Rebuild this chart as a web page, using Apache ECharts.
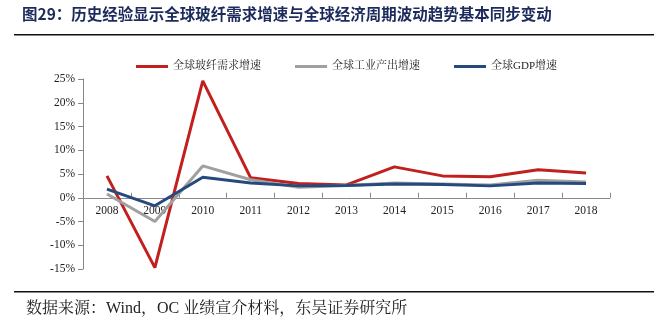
<!DOCTYPE html>
<html><head><meta charset="utf-8">
<script src="https://cdn.jsdelivr.net/npm/echarts@6/dist/echarts.min.js"></script>
<style>html,body{margin:0;padding:0;background:#fff}#c{width:667px;height:327px}</style>
</head><body><div id="c"></div>
<script>
const years = ['2008','2009','2010','2011','2012','2013','2014','2015','2016','2017','2018'];
const glassFiber = [4.6,-14.7,24.6,4.2,3.0,2.7,6.5,4.6,4.4,5.9,5.2];
const industrial = [0.8,-5.0,6.7,3.8,2.2,2.6,3.1,2.9,2.7,3.7,3.3];
const gdp = [1.8,-1.7,4.3,3.1,2.5,2.6,2.9,2.8,2.5,3.1,3.0];
const names = ['全球玻纤需求增速','全球工业产出增速','全球GDP增速'];
const serif = '"Liberation Serif","Noto Serif CJK SC","Noto Sans CJK SC",serif';
const chart = echarts.init(document.getElementById('c'));
const mk = (n,d,c)=>({name:n,type:'line',data:d,symbol:'none',lineStyle:{width:3,color:c},itemStyle:{color:c}});
chart.setOption({
  animation:false,
  textStyle:{fontFamily:serif},
  legend:{top:56,left:131,itemWidth:32,itemHeight:3,itemGap:34,icon:'rect',
    textStyle:{fontFamily:serif,fontSize:11,color:'#222'},data:names},
  grid:{left:83,right:57,top:79,bottom:58},
  xAxis:{type:'category',data:years,boundaryGap:true,
    axisLine:{onZero:true,lineStyle:{color:'#888'}},axisTick:{show:true,inside:true,lineStyle:{color:'#888'}},
    axisLabel:{fontFamily:serif,fontSize:11.5,color:'#222',margin:-64}},
  yAxis:{type:'value',min:-15,max:25,interval:5,
    axisLine:{show:true,lineStyle:{color:'#888'}},axisTick:{show:true,inside:false,lineStyle:{color:'#888'}},
    splitLine:{show:false},
    axisLabel:{fontFamily:serif,fontSize:11.5,color:'#222',margin:8,formatter:'{value}%'}},
  series:[mk(names[0],glassFiber,'#c0201e'),mk(names[1],industrial,'#a0a0a0'),mk(names[2],gdp,'#264a7d')],
  graphic:[
    {type:'text',left:22,top:6,style:{text:'图29：历史经验显示全球玻纤需求增速与全球经济周期波动趋势基本同步变动',
      font:'bold 15.5px "Noto Sans CJK SC"',fill:'#1c2b5c'}},
    {type:'rect',shape:{x:14,y:34,width:640,height:1.5},style:{fill:'#111'}},
    {type:'rect',shape:{x:14,y:291,width:640,height:1.5},style:{fill:'#111'}},
    {type:'text',left:26,top:301,style:{text:'数据来源：Wind，OC 业绩宣介材料，东吴证券研究所',
      font:'16px '+serif,fill:'#222'}}
  ]
});
</script></body></html>
